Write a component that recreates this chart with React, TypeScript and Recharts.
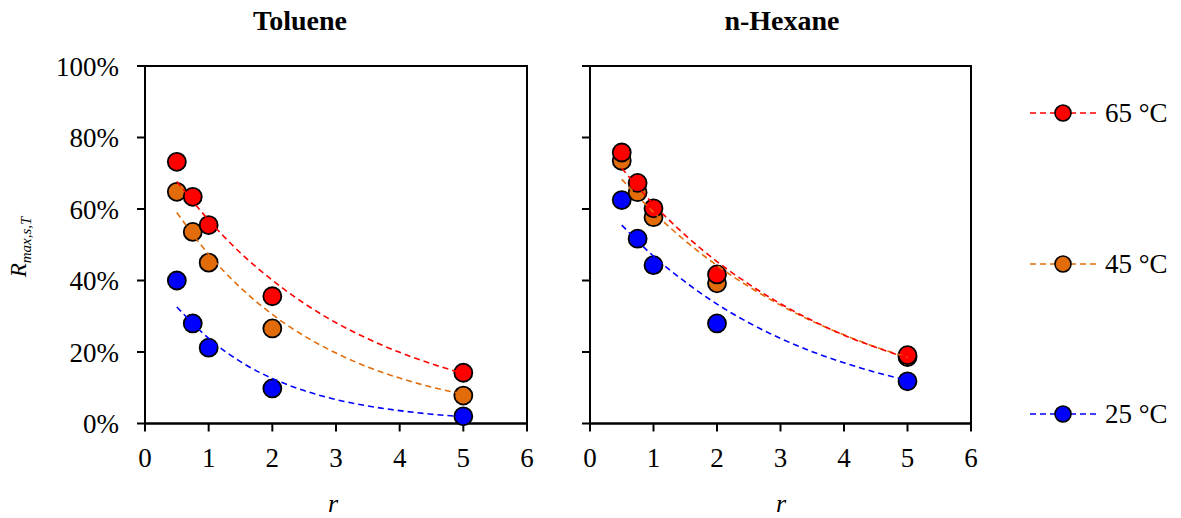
import React from "react";
import {
  ComposedChart,
  Scatter,
  Line,
  XAxis,
  YAxis,
  ReferenceArea,
} from "recharts";

// Ratio values r at which R was measured
const rValues = [0.5, 0.75, 1, 2, 5];

// Measured R_max,s,T (%) — Toluene
const toluene65 = [73.2, 63.4, 55.5, 35.6, 14.2];
const toluene45 = [64.8, 53.6, 45.0, 26.6, 7.8];
const toluene25 = [40.0, 28.0, 21.2, 9.8, 2.0];

// Measured R_max,s,T (%) — n-Hexane
const hexane65 = [75.8, 67.3, 60.2, 41.7, 19.1];
const hexane45 = [73.5, 64.7, 57.7, 39.2, 18.6];
const hexane25 = [62.5, 51.7, 44.3, 28.0, 11.8];

// Trend-line sample positions and values (%)
const trendR = [0.5, 1, 1.5, 2, 2.5, 3, 3.5, 4, 4.5, 5];
const tolueneTrend65 = [67.7, 56.9, 47.7, 40.1, 33.6, 28.2, 23.7, 19.9, 16.7, 14.0];
const tolueneTrend45 = [59.0, 47.3, 38.0, 30.5, 24.5, 19.7, 15.8, 12.7, 10.2, 8.2];
const tolueneTrend25 = [32.6, 23.8, 17.3, 12.6, 9.2, 6.7, 4.9, 3.6, 2.6, 1.9];
const hexaneTrend65 = [71.4, 61.3, 52.7, 45.3, 39.0, 33.5, 28.8, 24.7, 21.3, 18.3];
const hexaneTrend45 = [68.3, 59.1, 51.1, 44.2, 38.3, 33.1, 28.6, 24.8, 21.4, 18.5];
const hexaneTrend25 = [55.5, 46.8, 39.6, 33.4, 28.2, 23.8, 20.1, 17.0, 14.3, 12.1];

const xTicks = [0, 1, 2, 3, 4, 5, 6];
const yTicks = [0, 20, 40, 60, 80, 100];

const seriesLabels = ["65 °C", "45 °C", "25 °C"];
const seriesColors = ["#FF0000", "#E36C0A", "#0000FF"];

const FONT = "'Liberation Serif', 'Times New Roman', serif";

const toPoints = (xs: number[], ys: number[]) =>
  xs.map((x, i) => ({ x, y: ys[i] }));

type PanelProps = {
  left: number;
  width: number;
  yAxisWidth: number;
  marginRight: number;
  showYLabels: boolean;
  measured: number[][]; // order: 65, 45, 25
  trends: number[][];
};

const Dot = (color: string) => (props: any) => (
  <circle
    cx={props.cx}
    cy={props.cy}
    r={9}
    fill={color}
    stroke="#000"
    strokeWidth={1.8}
  />
);

const tickStyle = { fill: "#000", fontSize: 27, fontFamily: FONT };

function Panel({
  left,
  width,
  yAxisWidth,
  marginRight,
  showYLabels,
  measured,
  trends,
}: PanelProps) {
  // Draw in order 25, 45, 65 so the hottest series sits on top
  const order = [2, 1, 0];
  return (
    <div style={{ position: "absolute", left, top: 0 }}>
      <ComposedChart
        width={width}
        height={518}
        margin={{ top: 66, right: marginRight, bottom: 24.5, left: 0 }}
      >
        <XAxis
          type="number"
          dataKey="x"
          domain={[0, 6]}
          ticks={xTicks}
          height={70}
          axisLine={{ stroke: "#000", strokeWidth: 2 }}
          tickLine={{ stroke: "#000", strokeWidth: 2 }}
          tickSize={8}
          tickMargin={16}
          tick={tickStyle}
          interval={0}
        />
        <YAxis
          type="number"
          dataKey="y"
          domain={[0, 100]}
          ticks={yTicks}
          width={yAxisWidth}
          axisLine={{ stroke: "#000", strokeWidth: 2 }}
          tickLine={{ stroke: "#000", strokeWidth: 2 }}
          tickSize={8}
          tickMargin={18}
          tick={tickStyle}
          tickFormatter={(v: number) => (showYLabels ? `${v}%` : "")}
          interval={0}
        />
        <ReferenceArea
          x1={0}
          x2={6}
          y1={0}
          y2={100}
          fill="none"
          fillOpacity={0}
          stroke="#000"
          strokeWidth={2}
        />
        {order.map((i) => (
          <Scatter
            key={`s${i}`}
            data={toPoints(rValues, measured[i])}
            fill={seriesColors[i]}
            shape={Dot(seriesColors[i])}
            isAnimationActive={false}
          />
        ))}
        {order.map((i) => (
          <Line
            key={`l${i}`}
            data={toPoints(trendR, trends[i])}
            dataKey="y"
            type="monotone"
            stroke={seriesColors[i]}
            strokeWidth={1.6}
            strokeDasharray="6 4"
            dot={false}
            activeDot={false}
            isAnimationActive={false}
            zIndex={700}
          />
        ))}
      </ComposedChart>
    </div>
  );
}

function Overlay() {
  const legendY = [113, 264, 414];
  return (
    <svg
      width={1181}
      height={518}
      style={{ position: "absolute", left: 0, top: 0, pointerEvents: "none" }}
      fontFamily={FONT}
    >
      <text x={300} y={30} textAnchor="middle" fontSize={28} fontWeight="bold">
        Toluene
      </text>
      <text x={782} y={30} textAnchor="middle" fontSize={28} fontWeight="bold">
        n-Hexane
      </text>
      <text
        transform="translate(26,247) rotate(-90)"
        textAnchor="middle"
        fontSize={23}
        fontStyle="italic"
      >
        R
        <tspan fontSize={15} dy={5}>
          max,s,T
        </tspan>
      </text>
      <text x={333} y={512} textAnchor="middle" fontSize={26} fontStyle="italic">
        r
      </text>
      <text x={781} y={512} textAnchor="middle" fontSize={26} fontStyle="italic">
        r
      </text>
      {seriesLabels.map((label, i) => (
        <g key={label}>
          <line
            x1={1030}
            x2={1098}
            y1={legendY[i]}
            y2={legendY[i]}
            stroke={seriesColors[i]}
            strokeWidth={1.6}
            strokeDasharray="6 4"
          />
          <circle
            cx={1063}
            cy={legendY[i]}
            r={8}
            fill={seriesColors[i]}
            stroke="#000"
            strokeWidth={1.6}
          />
          <text x={1105} y={legendY[i] + 9} fontSize={27}>
            {label}
          </text>
        </g>
      ))}
    </svg>
  );
}

export default function App() {
  return (
    <div
      style={{
        position: "absolute",
        left: 0,
        top: 0,
        width: 1181,
        height: 518,
        background: "#fff",
        overflow: "hidden",
      }}
    >
      <Panel
        left={0}
        width={560}
        yAxisWidth={145}
        marginRight={33}
        showYLabels={true}
        measured={[toluene65, toluene45, toluene25]}
        trends={[tolueneTrend65, tolueneTrend45, tolueneTrend25]}
      />
      <Panel
        left={560}
        width={440}
        yAxisWidth={30}
        marginRight={29}
        showYLabels={false}
        measured={[hexane65, hexane45, hexane25]}
        trends={[hexaneTrend65, hexaneTrend45, hexaneTrend25]}
      />
      <Overlay />
    </div>
  );
}
